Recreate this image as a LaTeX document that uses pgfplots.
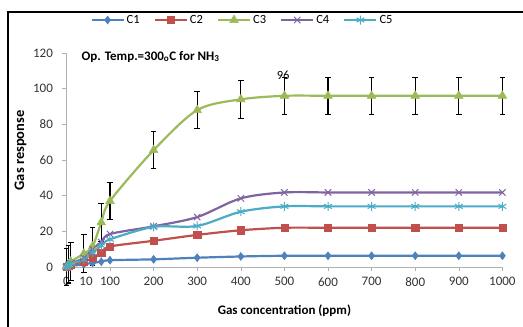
\documentclass[border=0pt]{standalone}
\usepackage{fontspec}
\setmainfont{Carlito}
\usepackage{pgfplots}
\pgfplotsset{compat=1.18}
\definecolor{cA}{HTML}{4F81BD}
\definecolor{cB}{HTML}{C0504D}
\definecolor{cC}{HTML}{9BBB59}
\definecolor{cD}{HTML}{8064A2}
\definecolor{cE}{HTML}{4BACC6}
\begin{document}
\begin{tikzpicture}
\useasboundingbox (0,0) rectangle (523pt,327pt);
\draw[line width=1.2pt] (8pt,0) -- (8pt,315pt) -- (523pt,315pt);
\begin{axis}[
  at={(66.4pt,60pt)}, anchor=south west,
  scale only axis, width=436pt, height=214pt,
  xmin=0, xmax=1000, ymin=0, ymax=120,
  clip=false,
  axis lines*=left,
  axis line style={gray!60, line width=0.6pt},
  tick style={gray!60, line width=0.6pt},
  tick align=outside, major tick length=4pt,
  xtick={0,100,...,1000},
  extra x ticks={45}, extra x tick labels={10},
  extra x tick style={tick style={draw=none}},
  ytick={0,20,...,120},
  /pgf/number format/assume math mode=true,
  /pgf/number format/1000 sep={},
  tick label style={font=\fontsize{13}{15}\selectfont, text=black!80},
  yticklabel style={xshift=-6pt},
  xticklabel style={yshift=-3pt},
  xlabel={\textbf{Gas concentration (ppm)}},
  ylabel={\textbf{Gas response}},
  label style={font=\fontsize{13}{15}\selectfont},
  xlabel style={at={(axis description cs:0.5,-0.205)}, anchor=center},
  ylabel style={at={(axis description cs:-0.105,0.545)}, anchor=center, font=\fontsize{14.5}{16}\selectfont},
  legend style={at={(axis description cs:0.048,1.154)}, anchor=west, draw=none, fill=none,
    font=\fontsize{12.5}{14}\selectfont, legend columns=5,
    /tikz/every even column/.append style={column sep=12pt}},
  legend image code/.code={\draw[#1, sharp plot, mark=none] plot coordinates {(0pt,0pt)(32pt,0pt)};
     \draw[#1, only marks] plot coordinates {(16pt,0pt)};},
  every axis plot/.append style={line width=2.2pt, smooth, tension=0.5},
]
\addplot[cA, mark=diamond*, mark size=4pt, mark options={solid, fill=cA, line width=0.5pt}] coordinates {
(0,0)(5,0.3)(10,0.6)(40,1.5)(60,2.3)(80,3)(100,3.8)(200,4.3)(300,5.2)(400,5.9)(500,6.3)(600,6.3)(700,6.3)(800,6.3)(900,6.3)(1000,6.3)};
\addlegendentry{C1}
\addplot[cB, mark=square*, mark size=3.6pt, mark options={solid, fill=cB, line width=0.5pt}] coordinates {
(0,0)(5,0.8)(10,1.5)(40,3)(60,5)(80,8)(100,11.5)(200,14.7)(300,18)(400,20.6)(500,22)(600,22)(700,22)(800,22)(900,22)(1000,22)};
\addlegendentry{C2}
\addplot[cC, mark=triangle*, mark size=5pt, mark options={solid, fill=cC, line width=0.5pt},
  error bars/.cd, y dir=both, y fixed=10.5,
  error bar style={black, line width=1.1pt, sharp plot},
  error mark options={black, line width=1.1pt, mark size=2.8pt, rotate=90}] coordinates {
(0,0)(5,1.5)(10,3)(40,7.5)(60,11.5)(80,25)(100,37)(200,65.5)(300,88)(400,94)(500,96)(600,96)(700,96)(800,96)(900,96)(1000,96)};
\addlegendentry{C3}
\addplot[cD, mark=x, mark size=4.5pt, mark options={solid, line width=1pt}] coordinates {
(0,0)(5,1)(10,2)(40,5)(60,10)(80,14)(100,18.5)(200,22.8)(300,28)(400,38.5)(500,41.8)(600,41.8)(700,41.8)(800,41.8)(900,41.8)(1000,41.8)};
\addlegendentry{C4}
\addplot[cE, mark=asterisk, mark size=4.5pt, mark options={solid, line width=1pt}] coordinates {
(0,0)(5,1)(10,2)(40,4)(60,8)(80,12)(100,15.5)(200,22.5)(300,23)(400,31)(500,34)(600,34)(700,34)(800,34)(900,34)(1000,34)};
\addlegendentry{C5}
\node[anchor=west, font=\fontsize{13}{15}\selectfont\bfseries] at (axis cs:27,118) {Op. Temp.=300\textsubscript{o}C for NH\textsubscript{3}};
\node[font=\fontsize{12.5}{14}\selectfont] at (axis cs:497,107.5) {96};
\end{axis}
\end{tikzpicture}
\end{document}
